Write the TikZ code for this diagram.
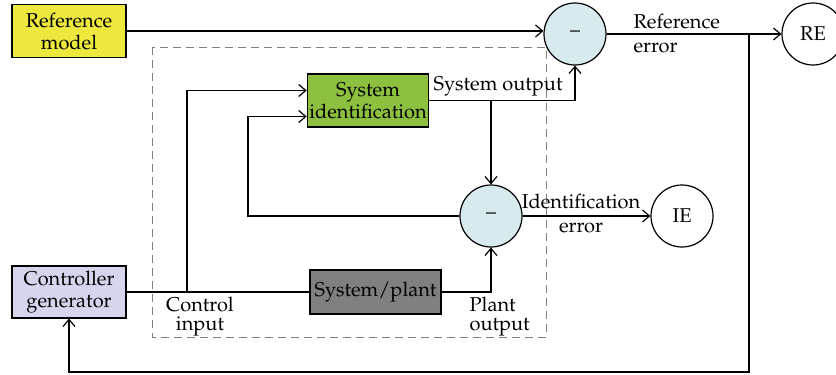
\documentclass[tikz,border=0pt]{standalone}
\usepackage[T1]{fontenc}
\usepackage{mathpazo}
\usepackage{tikz}
\usetikzlibrary{arrows.meta,positioning,calc}
\definecolor{refyellow}{HTML}{EDE83D}
\definecolor{ctrlblue}{HTML}{D5D5EE}
\definecolor{idgreen}{HTML}{8DC03F}
\definecolor{plantgray}{HTML}{808080}
\definecolor{sumblue}{HTML}{D7EAEE}
\tikzset{
  block/.style = {draw=black, rectangle, align=center, inner sep=1pt,
    font=\normalsize},
  blk_ref/.style = {block, fill=refyellow, minimum width=57pt, minimum height=26.5pt},% reference model
  blk_ctl/.style = {block, fill=ctrlblue, minimum width=57pt, minimum height=26pt},% controller
  blk_id/.style = {block, fill=idgreen, minimum width=60.5pt, minimum height=26.5pt},% identification
  blk_pl/.style = {block, fill=plantgray, minimum width=65.5pt, minimum height=22pt},% plant
  sumnode/.style = {draw=black, circle, fill=sumblue, minimum size=31pt, inner sep=0pt},
  errnode/.style = {draw=black, circle, fill=white, minimum size=31pt, inner sep=0pt},
  lbl/.style = {inner sep=0pt, font=\normalsize}
}

\begin{document}
\begin{tikzpicture}[x=0.5pt,y=-0.5pt,->,>={Straight Barb[length=3.5pt,width=6pt]},line width=0.6pt]
    \useasboundingbox (0,0) rectangle (836,375);
    % dashed frame round the identification loop
    \draw[-,dashed,gray,line width=0.5pt,dash pattern=on 4pt off 2.5pt] (152,47) rectangle (546,337);

    \node [blk_ref](refm) at (69,31) {Reference\\[-1pt]model};
    \node [blk_ctl](ctrl) at (69,292) {Controller\\[-1pt]generator};
    \node [blk_id](sysid) at (368,100.5) {System\\[-1pt]identification};
    \node [blk_pl](plant) at (375.5,292) {System/plant};
    \node [sumnode](c1) at (575,34) {--};
    \node [sumnode](c2) at (491,216) {--};
    \node [errnode](re) at (813,34) {RE};
    \node [errnode](ie) at (682,216) {IE};

    % labels
    \node [lbl, align=left, anchor=west] at (633,33) {Reference\\error};
    \node [lbl, anchor=south west] at (433,97) {System output};
    \node [lbl, align=center] at (581,213) {Identification\\error};
    \node [lbl, align=center, anchor=north] at (200,296) {Control\\[-2.5pt]input};
    \node [lbl, align=left, anchor=north west] at (469,296) {Plant\\[-2.5pt]output};

    % branch points
    \coordinate (fb) at (749,34);
    \coordinate (fbl) at (749,372);
    \coordinate (ci) at (187,292);
    \coordinate (fbid) at (248,216);
    \coordinate (sidin1) at ([yshift=5pt]sysid.west);
    \coordinate (sidin2) at ([yshift=-8pt]sysid.west);
    \coordinate (so) at (sysid.east -| c2.north);

    % connectors
    \draw (refm.east) -- (refm.east -| c1.west);
    \draw (c1.east) -- (re.west);
    \draw (fb) -- (fbl) -| (ctrl.south);
    \draw[-] (ctrl.east) -- (plant.west);
    \draw (ci) |- (sidin1);
    \draw (c2.west) -| (sidin2 -| fbid) -- (sidin2);
    \draw (sysid.east) -| (c1.south);
    \draw (so) -- (c2.north);
    \draw (plant.east) -| (c2.south);
    \draw (c2.east) -- (ie.west);
\end{tikzpicture}
\end{document}
